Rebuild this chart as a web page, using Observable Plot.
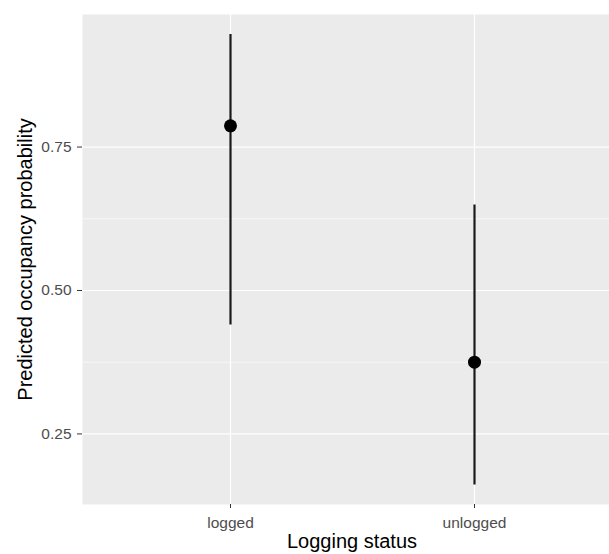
<!DOCTYPE html>
<html>
<head>
<meta charset="utf-8">
<script src="https://cdn.jsdelivr.net/npm/d3@7"></script>
<script src="https://cdn.jsdelivr.net/npm/@observablehq/plot@0.6"></script>
<style>
  html, body { margin: 0; padding: 0; background: white; overflow: hidden; }
</style>
</head>
<body>
<div id="chart"></div>
<script>
const status = ["logged", "unlogged"];
const estimate = [0.787, 0.375];
const lower = [0.440, 0.161];
const upper = [0.946, 0.649];
const yTicks = [0.25, 0.50, 0.75];
const yMinor = [0.375, 0.625];
const xTitle = "Logging status";
const yTitle = "Predicted occupancy probability";

const data = status.map((s, i) => ({status: s, est: estimate[i], lo: lower[i], hi: upper[i]}));

const chart = Plot.plot({
  width: 609,
  height: 554,
  marginLeft: 82,
  marginRight: -12,
  marginTop: 14,
  marginBottom: 50,
  style: {fontFamily: "'Liberation Sans', Arial, sans-serif", fontSize: "12px", background: "white", overflow: "visible"},
  x: {type: "point", domain: status, padding: 0.6},
  y: {domain: [0.127, 0.981]},
  marks: [
    Plot.frame({fill: "#ebebeb", stroke: null}),
    Plot.gridY(yMinor, {stroke: "white", strokeOpacity: 1, strokeWidth: 0.6}),
    Plot.gridY(yTicks, {stroke: "white", strokeOpacity: 1, strokeWidth: 1.2}),
    Plot.gridX(status, {stroke: "white", strokeOpacity: 1, strokeWidth: 1.2}),
    Plot.ruleX(data, {x: "status", y1: "lo", y2: "hi", stroke: "#1a1a1a", strokeWidth: 2.2}),
    Plot.dot(data, {x: "status", y: "est", r: 6.5, fill: "black", stroke: null}),
    Plot.axisY(yTicks, {tickFormat: d3.format(".2f"), tickSize: 5, tickPadding: 6, stroke: "#333", fill: "#4d4d4d", fontSize: 15.5, label: null}),
    Plot.axisX(status, {tickSize: 4, tickPadding: 8, stroke: "#333", fill: "#4d4d4d", fontSize: 15.5, label: null}),
    Plot.text([yTitle], {frameAnchor: "left", dx: -57, rotate: -90, textAnchor: "middle", fontSize: 20, fill: "black"}),
    Plot.text([xTitle], {frameAnchor: "bottom", dy: 43, textAnchor: "middle", fontSize: 20, fill: "black"})
  ]
});
document.getElementById("chart").appendChild(chart);
</script>
</body>
</html>
